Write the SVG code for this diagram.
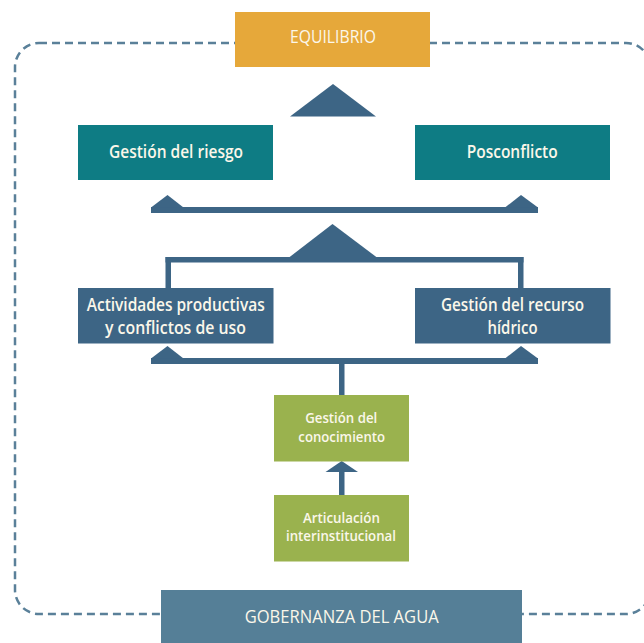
<svg xmlns="http://www.w3.org/2000/svg" width="644" height="643" viewBox="0 0 644 643">
<style>
.lbl{font-family:"Open Sans","Noto Sans",sans-serif;font-weight:600;fill:#fbf7ea;text-anchor:middle}
.big{font-size:17.5px}
.sm{font-size:14px}
.cap{font-size:18px;font-weight:500}
.conn{fill:#3d6585;stroke:none}
</style>
<rect x="15" y="43" width="635" height="571" rx="24" fill="none" stroke="#5a8099" stroke-width="2.5" stroke-dasharray="8 5"/>
<g id="connectors">
<polygon class="conn" points="333,84 376,116.5 290,116.5"/>
<rect class="conn" x="151" y="207" width="387" height="6"/>
<polygon class="conn" points="151,207.5 167.5,195 183.5,207.5"/>
<polygon class="conn" points="505,207.5 521,195 538,207.5"/>
<polygon class="conn" points="332.5,224 377,257.5 289,257.5"/>
<rect class="conn" x="165.5" y="257" width="358" height="5.5"/>
<rect class="conn" x="165.5" y="257" width="5.5" height="31"/>
<rect class="conn" x="518" y="257" width="5.5" height="31"/>
<rect class="conn" x="151" y="358" width="387" height="6"/>
<polygon class="conn" points="151,358.5 167.5,346 183.5,358.5"/>
<polygon class="conn" points="505,358.5 521,346 538,358.5"/>
<rect class="conn" x="339" y="363" width="5.5" height="32"/>
<polygon class="conn" points="341.7,461 358,472 325.5,472"/>
<rect class="conn" x="339" y="471" width="5.5" height="24"/>
</g>
<g id="equilibrio">
<rect x="235" y="12" width="195" height="55" fill="#e6a83a"/>
<text class="lbl cap" x="333" y="43" textLength="86" lengthAdjust="spacingAndGlyphs">EQUILIBRIO</text>
</g>
<g id="gestion-riesgo">
<rect x="78" y="125" width="195" height="55" fill="#0e7c84"/>
<text class="lbl big" x="176" y="158.3" textLength="134" lengthAdjust="spacingAndGlyphs">Gestión del riesgo</text>
</g>
<g id="posconflicto">
<rect x="415" y="125" width="195" height="55" fill="#0e7c84"/>
<text class="lbl big" x="512.2" y="158" textLength="91" lengthAdjust="spacingAndGlyphs">Posconflicto</text>
</g>
<g id="actividades">
<rect x="78" y="288" width="195.5" height="55.5" fill="#3d6585"/>
<text class="lbl big" x="175.7" y="311" textLength="178" lengthAdjust="spacingAndGlyphs">Actividades productivas</text>
<text class="lbl big" x="175.5" y="334" textLength="141" lengthAdjust="spacingAndGlyphs">y conflictos de uso</text>
</g>
<g id="recurso-hidrico">
<rect x="415" y="288" width="195.5" height="55.5" fill="#3d6585"/>
<text class="lbl big" x="512.5" y="310.5" textLength="143" lengthAdjust="spacingAndGlyphs">Gestión del recurso</text>
<text class="lbl big" x="512.5" y="334" textLength="50" lengthAdjust="spacingAndGlyphs">hídrico</text>
</g>
<g id="conocimiento">
<rect x="274" y="395" width="135" height="66.5" fill="#9ab24e"/>
<text class="lbl sm" x="341.2" y="423" textLength="72" lengthAdjust="spacingAndGlyphs">Gestión del</text>
<text class="lbl sm" x="341.7" y="441.5" textLength="86.7" lengthAdjust="spacingAndGlyphs">conocimiento</text>
</g>
<g id="articulacion">
<rect x="274" y="495" width="135" height="66.5" fill="#9ab24e"/>
<text class="lbl sm" x="341.4" y="523" textLength="77" lengthAdjust="spacingAndGlyphs">Articulación</text>
<text class="lbl sm" x="341" y="541" textLength="110" lengthAdjust="spacingAndGlyphs">interinstitucional</text>
</g>
<g id="gobernanza">
<rect x="161" y="590" width="361" height="53" fill="#557f97"/>
<text class="lbl cap" x="341.7" y="623" textLength="194" lengthAdjust="spacingAndGlyphs">GOBERNANZA DEL AGUA</text>
</g>
</svg>
